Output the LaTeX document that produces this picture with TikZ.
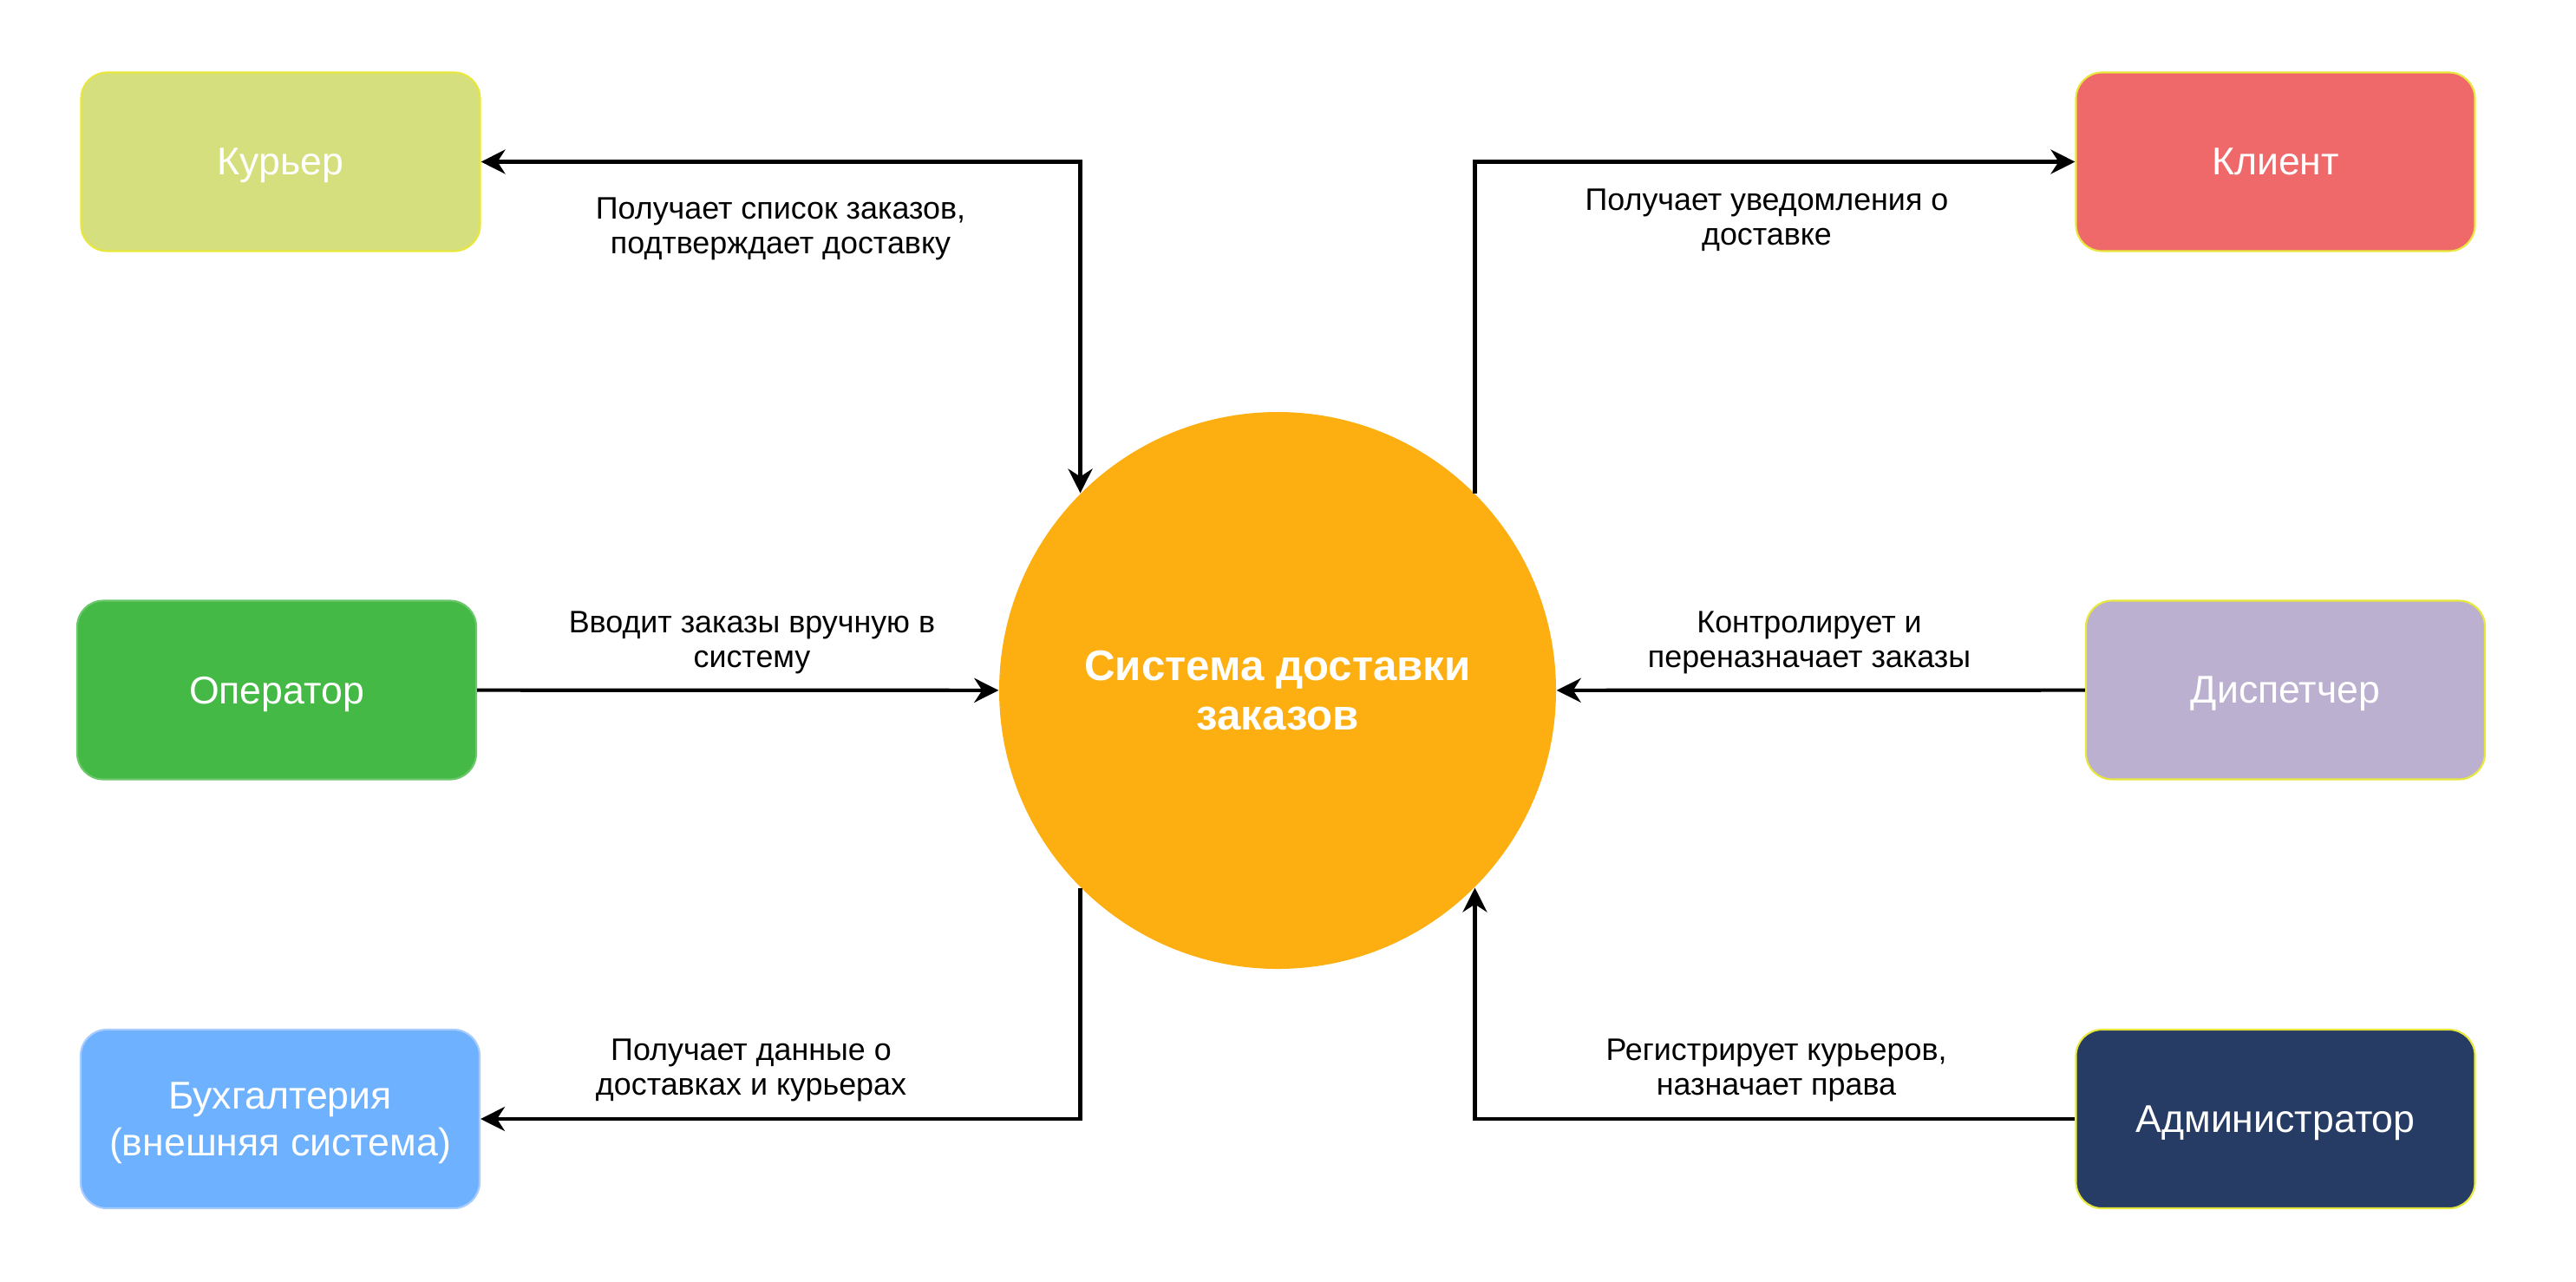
\documentclass[tikz,border=0pt]{standalone}
\usepackage{fontspec}
\setmainfont{Liberation Sans}
\usetikzlibrary{positioning,arrows.meta}

\definecolor{couriercol}{HTML}{D5DF7D}
\definecolor{clientcol}{HTML}{F0696A}
\definecolor{operatorcol}{HTML}{45B945}
\definecolor{dispatchcol}{HTML}{BBB0D0}
\definecolor{bookcol}{HTML}{6EB1FF}
\definecolor{bookedge}{HTML}{A9CCFF}
\definecolor{admincol}{HTML}{263C64}
\definecolor{systemcol}{HTML}{FDAF12}
\definecolor{edgeyellow}{HTML}{E8E83C}

\begin{document}
\begin{tikzpicture}[
            >={Stealth[length=0.28cm, width=0.28cm, inset=0.09cm]},
            actor/.style={rectangle, rounded corners=0.3cm, draw=edgeyellow, line width=0.6pt, minimum width=4.6cm, minimum height=2.06cm, text depth=0pt, text=white, font=\fontsize{12.7}{15.4}\selectfont, align=center},
            arrow/.style={->, line width=1.2pt},
            bothway/.style={<->, line width=1.2pt},
            note/.style={font=\fontsize{10.2}{11.5}\selectfont, align=center}
        ]
        \useasboundingbox (0,0) rectangle (29.7,-14.77);
        \node[circle, fill=systemcol, minimum size=6.42cm, inner sep=0pt, text=white, font=\bfseries\fontsize{14}{16}\selectfont, align=center] (sys) at (14.73,-7.96) {Система доставки\\заказов};
        \node[actor, fill=couriercol] (courier) at (3.235,-1.865) {Курьер};
        \node[actor, fill=clientcol] (client) at (26.235,-1.865) {Клиент};
        \node[actor, fill=operatorcol, draw=operatorcol!80!white] (operator) at (3.19,-7.955) {Оператор};
        \node[actor, fill=dispatchcol] (dispatcher) at (26.35,-7.955) {Диспетчер};
        \node[actor, fill=bookcol, draw=bookedge] (accounting) at (3.23,-12.9) {Бухгалтерия\\(внешняя система)};
        \node[actor, fill=admincol] (admin) at (26.235,-12.9) {Администратор};
        \draw[bothway] (courier.east) -| (sys.135);
        \draw[arrow] (sys.45) |- (client.west);
        \draw[arrow] (operator) -- (sys);
        \draw[arrow] (dispatcher) -- (sys);
        \draw[arrow] (sys.225) |- (accounting.east);
        \draw[arrow] (admin.west) -| (sys.315);
        \node[note] (lcourier) at (9.0,-2.64) {Получает список заказов,\\подтверждает доставку};
        \node[note] (lclient) at (20.37,-2.54) {Получает уведомления о\\доставке};
        \node[note] (loperator) at (8.67,-7.41) {Вводит заказы вручную в\\систему};
        \node[note] (ldispatcher) at (20.86,-7.41) {Контролирует и\\переназначает заказы};
        \node[note] (laccounting) at (8.66,-12.34) {Получает данные о\\доставках и курьерах};
        \node[note] (ladmin) at (20.48,-12.34) {Регистрирует курьеров,\\назначает права};
        \end{tikzpicture}
\end{document}
